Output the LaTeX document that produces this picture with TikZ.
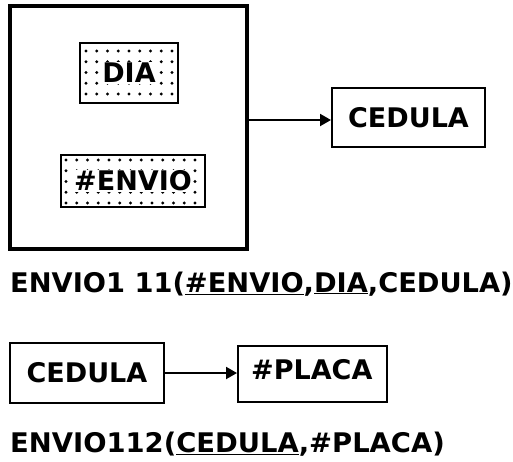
\documentclass[tikz,border=0pt]{standalone}
\usepackage{fontspec}
\setmainfont{DejaVu Sans}
\usetikzlibrary{arrows.meta}
\tikzset{
  lbl/.style={font=\bfseries\fontsize{27}{29}\selectfont, inner sep=0pt},
  ebox/.style={draw, line width=2pt},
  conn/.style={line width=2pt, -{Triangle[length=11pt,width=12pt]}},
  dotmark/.style={fill=black},
}
\begin{document}
\begin{tikzpicture}[x=1pt,y=-1pt]
\useasboundingbox (0,0) rectangle (513,461);
% big entity box
\draw[line width=4pt] (10,6) rectangle (247,249);
% DIA box with dots
\draw[ebox] (80,43) rectangle (178,103);
\foreach \xx in {86,96.75,...,175}{\foreach \yy in {51,61.75,...,100}{\fill[dotmark] (\xx,\yy) circle (1.6pt);}}
\node[lbl, fill=white, inner sep=1pt] (dia) at (129,73) {DIA};
% ENVIO box
\draw[ebox] (61,155) rectangle (205,207);
\foreach \xx in {66,76.75,...,202}{\foreach \yy in {160,170.75,...,205}{\fill[dotmark] (\xx,\yy) circle (1.6pt);}}
\node[lbl, fill=white, inner sep=1pt] (envio) at (133,181) {\#ENVIO};
\coordinate (bigR) at (249,120);
\node[ebox, minimum width=153pt, minimum height=59pt, lbl] (ced1) at (408.5,117.5) {CEDULA};
\draw[conn] (bigR) -- (bigR -| ced1.west);
% label 1
\node[lbl, anchor=base west] (l1) at (10,292) {\scalebox{1.01}[1]{ENVIO1 11(\underline{\#ENVIO},\underline{DIA},CEDULA)}};
% bottom
\node[ebox, minimum width=154pt, minimum height=60pt, lbl] (ced2) at (87,373) {CEDULA};
\node[ebox, minimum width=149pt, minimum height=56pt, lbl, anchor=north west] (placa) at (237,345) {};
\node[lbl, anchor=base west] (placat) at (251,379) {\#PLACA};
\draw[conn] (ced2.east) -- (placa.west |- ced2.east);
\node[lbl, anchor=base west] (l2) at (10,452) {\scalebox{1.015}[1]{ENVIO112(\underline{CEDULA},\#PLACA)}};
\end{tikzpicture}
\end{document}
